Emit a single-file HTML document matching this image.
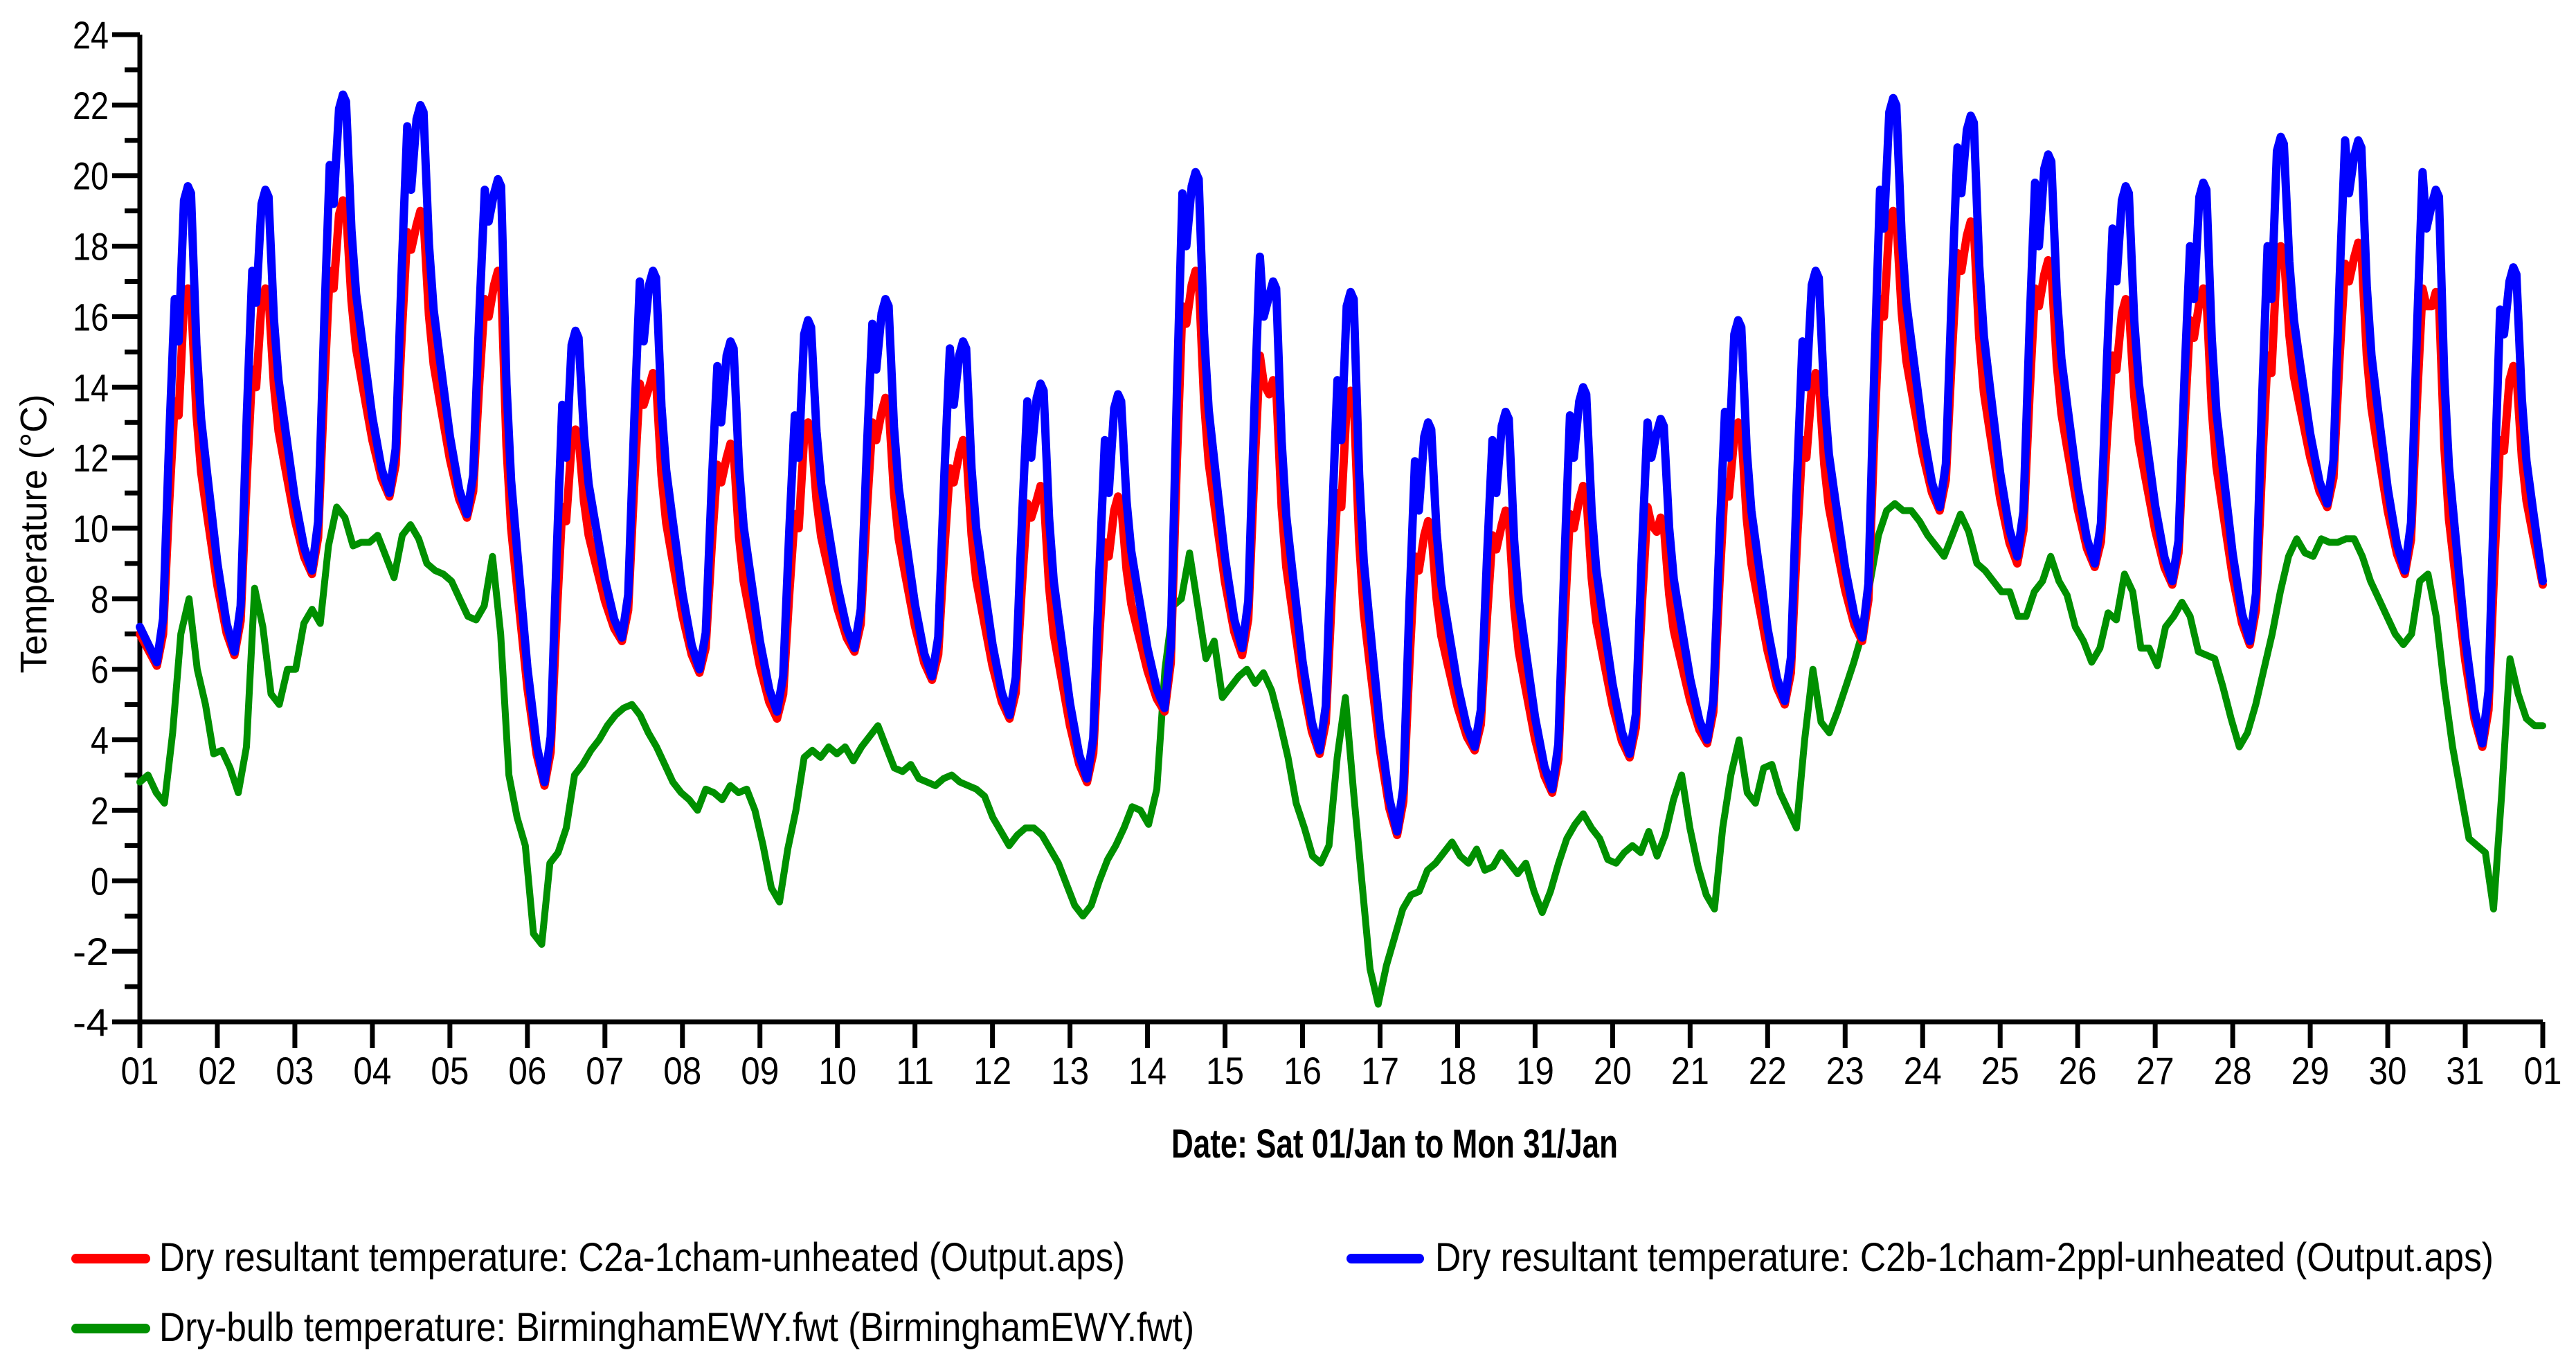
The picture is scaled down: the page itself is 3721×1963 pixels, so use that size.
<!DOCTYPE html>
<html><head><meta charset="utf-8"><style>
html,body{margin:0;padding:0;background:#fff;}
svg{display:block;font-family:"Liberation Sans",Arial,sans-serif;}
</style></head><body>
<svg id="chart" width="3721" height="1963" viewBox="0 0 3721 1963" xmlns="http://www.w3.org/2000/svg">
<g id="axes"></g>
<g id="series"></g>
<text x="1692" y="1672" font-size="58" font-weight="bold" textLength="645" lengthAdjust="spacingAndGlyphs">Date: Sat 01/Jan to Mon 31/Jan</text>
<text transform="translate(67,771) rotate(-90)" text-anchor="middle" font-size="54" textLength="403" lengthAdjust="spacingAndGlyphs">Temperature (°C)</text>
<g>
<g>
<line x1="110" y1="1818" x2="210" y2="1818" stroke="#ff0000" stroke-width="14" stroke-linecap="round"/>
<text x="230" y="1836" font-size="58" textLength="1395" lengthAdjust="spacingAndGlyphs">Dry resultant temperature: C2a-1cham-unheated (Output.aps)</text>
</g>
<g>
<line x1="1952" y1="1818" x2="2050" y2="1818" stroke="#0000ff" stroke-width="14" stroke-linecap="round"/>
<text x="2073" y="1836" font-size="58" textLength="1529" lengthAdjust="spacingAndGlyphs">Dry resultant temperature: C2b-1cham-2ppl-unheated (Output.aps)</text>
</g>
<g>
<line x1="110" y1="1919" x2="210" y2="1919" stroke="#009000" stroke-width="14" stroke-linecap="round"/>
<text x="230" y="1937" font-size="58" textLength="1495" lengthAdjust="spacingAndGlyphs">Dry-bulb temperature: BirminghamEWY.fwt (BirminghamEWY.fwt)</text>
</g>
</g>
</svg>
<script>
// ---- data ----
const dayLabels = ["01","02","03","04","05","06","07","08","09","10","11","12","13","14","15","16","17","18","19","20","21","22","23","24","25","26","27","28","29","30","31","01"];
const yTicks = [-4,-2,0,2,4,6,8,10,12,14,16,18,20,22,24];
// blue (C2b) daily key values
const blueMin = [6.2,6.5,8.8,11.0,10.4,2.8,6.9,6.0,4.8,6.6,5.8,4.7,2.9,4.9,6.6,3.7,1.4,3.8,2.6,3.6,4.0,5.1,6.9,10.6,9.2,9.0,8.5,6.8,10.7,8.8,3.9];
const blueP1  = [16.5,17.3,20.3,21.4,19.6,13.5,17.0,14.6,13.2,15.8,15.1,13.6,12.5,19.5,17.7,14.2,11.9,12.5,13.2,13.0,13.3,15.3,19.6,20.8,19.8,18.5,18.0,18.0,21.0,20.1,16.2];
const blueDip = [15.3,16.4,19.2,19.6,18.7,12.0,15.3,13.0,12.0,14.5,13.5,12.0,11.0,18.0,16.0,12.5,10.5,11.0,12.0,12.0,12.0,14.0,18.5,19.5,18.0,17.0,16.5,16.5,19.5,18.5,15.5];
const blueP2  = [19.7,19.6,22.3,22.0,19.9,15.6,17.3,15.3,15.9,16.5,15.3,14.1,13.8,20.1,17.0,16.7,13.0,13.3,14.0,13.1,15.9,17.3,22.2,21.7,20.6,19.7,19.8,21.1,21.0,19.6,17.4];
// red (C2a) daily key values
const redMin = [6.1,6.4,8.7,10.9,10.3,2.7,6.8,5.9,4.6,6.5,5.7,4.6,2.8,4.8,6.4,3.6,1.3,3.7,2.5,3.5,3.9,5.0,6.8,10.5,9.0,8.9,8.4,6.7,10.6,8.7,3.8];
const redP1  = [13.6,14.5,17.3,18.4,16.5,10.6,14.1,11.8,10.4,13.0,11.7,10.7,9.6,16.3,14.9,11.0,9.2,9.8,10.4,10.6,11.3,12.5,16.5,17.8,16.8,14.9,15.9,14.9,17.5,16.8,12.5];
const redDip = [13.2,14.0,16.8,17.9,16.0,10.2,13.5,11.3,10.0,12.5,11.3,10.3,9.2,15.8,14.1,10.6,8.8,9.4,10.0,10.1,10.9,12.0,16.0,17.3,16.3,14.5,15.4,14.4,17.0,16.3,12.2];
const redP2  = [16.8,16.8,19.3,19.0,17.3,12.8,14.4,12.4,13.0,13.7,12.5,11.2,10.9,17.3,14.2,13.9,10.2,10.5,11.2,10.3,13.0,14.4,19.0,18.7,17.6,16.5,16.8,18.0,18.1,16.7,14.6];
const blueStart = 7.2, redStart = 7.0, blueEnd = 8.5, redEnd = 8.4;
// green dry-bulb, evenly sampled over the month
const greenVals = [2.8,3.0,2.5,2.2,4.2,7.0,8.0,6.0,5.0,3.6,3.7,3.2,2.5,3.8,8.3,7.2,5.3,5.0,6.0,6.0,7.3,7.7,7.3,
9.5,10.6,10.3,9.5,9.6,9.6,9.8,9.2,8.6,9.8,10.1,9.7,9.0,8.8,8.7,8.5,8.0,7.5,7.4,7.8,9.2,7.0,3.0,1.8,1.0,-1.5,-1.8,0.5,0.8,1.5,3.0,3.3,3.7,4.0,4.4,4.7,4.9,5.0,4.7,4.2,3.8,3.3,2.8,2.5,2.3,2.0,2.6,2.5,2.3,2.7,2.5,2.6,2.0,1.0,-0.2,-0.6,0.9,2.0,3.5,3.7,3.5,3.8,3.6,3.8,3.4,3.8,4.1,4.4,3.8,3.2,3.1,3.3,2.9,2.8,2.7,2.9,3.0,2.8,2.7,2.6,2.4,1.8,1.4,1.0,1.3,1.5,1.5,1.3,0.9,0.5,-0.1,-0.7,-1.0,-0.7,0.0,0.6,1.0,1.5,2.1,2.0,1.6,2.6,6.0,7.8,8.0,9.3,7.8,6.3,6.8,5.2,5.5,5.8,6.0,5.6,5.9,5.4,4.5,3.5,2.2,1.5,0.7,0.5,1.0,3.5,5.2,2.5,0.0,-2.5,-3.5,-2.4,-1.6,-0.8,-0.4,-0.3,0.3,0.5,0.8,1.1,0.7,0.5,0.9,0.3,0.4,0.8,0.5,0.2,0.5,-0.3,-0.9,-0.3,0.5,1.2,1.6,1.9,1.5,1.2,0.6,0.5,0.8,1.0,0.8,1.4,0.7,1.3,2.3,3.0,1.5,0.4,-0.4,-0.8,1.5,3.0,4.0,2.5,2.2,3.2,3.3,2.5,2.0,1.5,4.0,6.0,4.5,4.2,4.8,5.5,6.2,7.0,8.5,9.8,10.5,10.7,10.5,10.5,10.2,9.8,9.5,9.2,9.8,10.4,9.9,9.0,8.8,8.5,8.2,8.2,7.5,7.5,8.2,8.5,9.2,8.5,8.1,7.2,6.8,6.2,6.6,7.6,7.4,8.7,8.2,6.6,6.6,6.1,7.2,7.5,7.9,7.5,6.5,6.4,6.3,5.5,4.6,3.8,4.2,5.0,6.0,7.0,8.2,9.2,9.7,9.3,9.2,9.7,9.6,9.6,9.7,9.7,9.2,8.5,8.0,7.5,7.0,6.7,7.0,8.5,8.7,7.5,5.5,3.8,2.5,1.2,1.0,0.8,-0.8,2.5,6.3,5.3,4.6,4.4,4.4];

// ---- scales ----
const X0 = 202, X1 = 3673, YT = 50, YB = 1476, VMIN = -4, VMAX = 24, NDAYS = 31;
function xs(t){ return X0 + t*(X1-X0)/NDAYS; }
function ys(v){ return YB - (v-VMIN)*(YB-YT)/(VMAX-VMIN); }
const NS = "http://www.w3.org/2000/svg";
function mk(tag, attrs, parent){ const e=document.createElementNS(NS,tag); for(const k in attrs) e.setAttribute(k,attrs[k]); parent.appendChild(e); return e; }

// ---- axes ----
const axes = document.getElementById('axes');
const yAxis = mk('path',{d:`M${X0},${YT} V${YB} H${X1}`,fill:'none',stroke:'#000','stroke-width':7}, axes);


yTicks.forEach(v=>{
  const y = ys(v);
  const t = mk('line',{x1:X0-40,y1:y,x2:X0,y2:y,stroke:'#000','stroke-width':7}, axes);
  
  
  if (v < VMAX) {
    const ym = ys(v+1);
    const m = mk('line',{x1:X0-22,y1:ym,x2:X0,y2:ym,stroke:'#000','stroke-width':7}, axes);
    
    
  }
  const lb = mk('text',{x:X0-45,y:y+20,'text-anchor':'end','font-size':56,textLength:(String(v).length*26),lengthAdjust:'spacingAndGlyphs'}, axes);
  lb.textContent = v;
  
  
});
dayLabels.forEach((s,i)=>{
  const x = xs(i);
  const t = mk('line',{x1:x,y1:YB,x2:x,y2:YB+38,stroke:'#000','stroke-width':7}, axes);
  
  
  const lb = mk('text',{x:x,y:1566,'text-anchor':'middle','font-size':56,textLength:55,lengthAdjust:'spacingAndGlyphs'}, axes);
  lb.textContent = s;
  
  
});

// ---- series ----
function dailyPoints(start, mins, p1, dip, p2, endV){
  const pts = [[0,start]];
  for(let d=0; d<mins.length; d++){
    const m = mins[d];
    pts.push([d+0.22, m]);
    pts.push([d+0.30, m+0.12*(p1[d]-m)]);
    pts.push([d+0.38, m+0.62*(p1[d]-m)]);
    pts.push([d+0.45, p1[d]]);
    pts.push([d+0.50, dip[d]]);
    pts.push([d+0.57, p2[d]-0.4]);
    pts.push([d+0.62, p2[d]]);
    pts.push([d+0.66, p2[d]-0.2]);
    const nm = d+1 < mins.length ? mins[d+1] : endV - 0.19*(p2[d]-endV)/0.81;
    pts.push([d+0.73, nm+0.66*(p2[d]-nm)]);
    pts.push([d+0.79, nm+0.50*(p2[d]-nm)]);
    pts.push([d+0.87, nm+0.38*(p2[d]-nm)]);
    if (d+1 < mins.length){
      pts.push([d+1.0, nm+0.19*(p2[d]-nm)]);
      pts.push([d+1.12, nm+0.06*(p2[d]-nm)]);
    } else {
      pts.push([d+1.0, endV]);
    }
  }
  return pts;
}
function pathFrom(pts){ return pts.map((p,i)=>(i?'L':'M')+xs(p[0]).toFixed(1)+','+ys(p[1]).toFixed(1)).join(' '); }
const layer = document.getElementById('series');
const gPts = greenVals.map((v,i)=>[i*NDAYS/(greenVals.length-1), v]);
const gl = mk('path',{d:pathFrom(gPts),fill:'none',stroke:'#009000','stroke-width':10,'stroke-linejoin':'round','stroke-linecap':'round'}, layer);


const rl = mk('path',{d:pathFrom(dailyPoints(redStart,redMin,redP1,redDip,redP2,redEnd)),fill:'none',stroke:'#ff0000','stroke-width':12,'stroke-linejoin':'round','stroke-linecap':'round'}, layer);


const bl = mk('path',{d:pathFrom(dailyPoints(blueStart,blueMin,blueP1,blueDip,blueP2,blueEnd)),fill:'none',stroke:'#0000ff','stroke-width':12,'stroke-linejoin':'round','stroke-linecap':'round'}, layer);


</script>
</body></html>
